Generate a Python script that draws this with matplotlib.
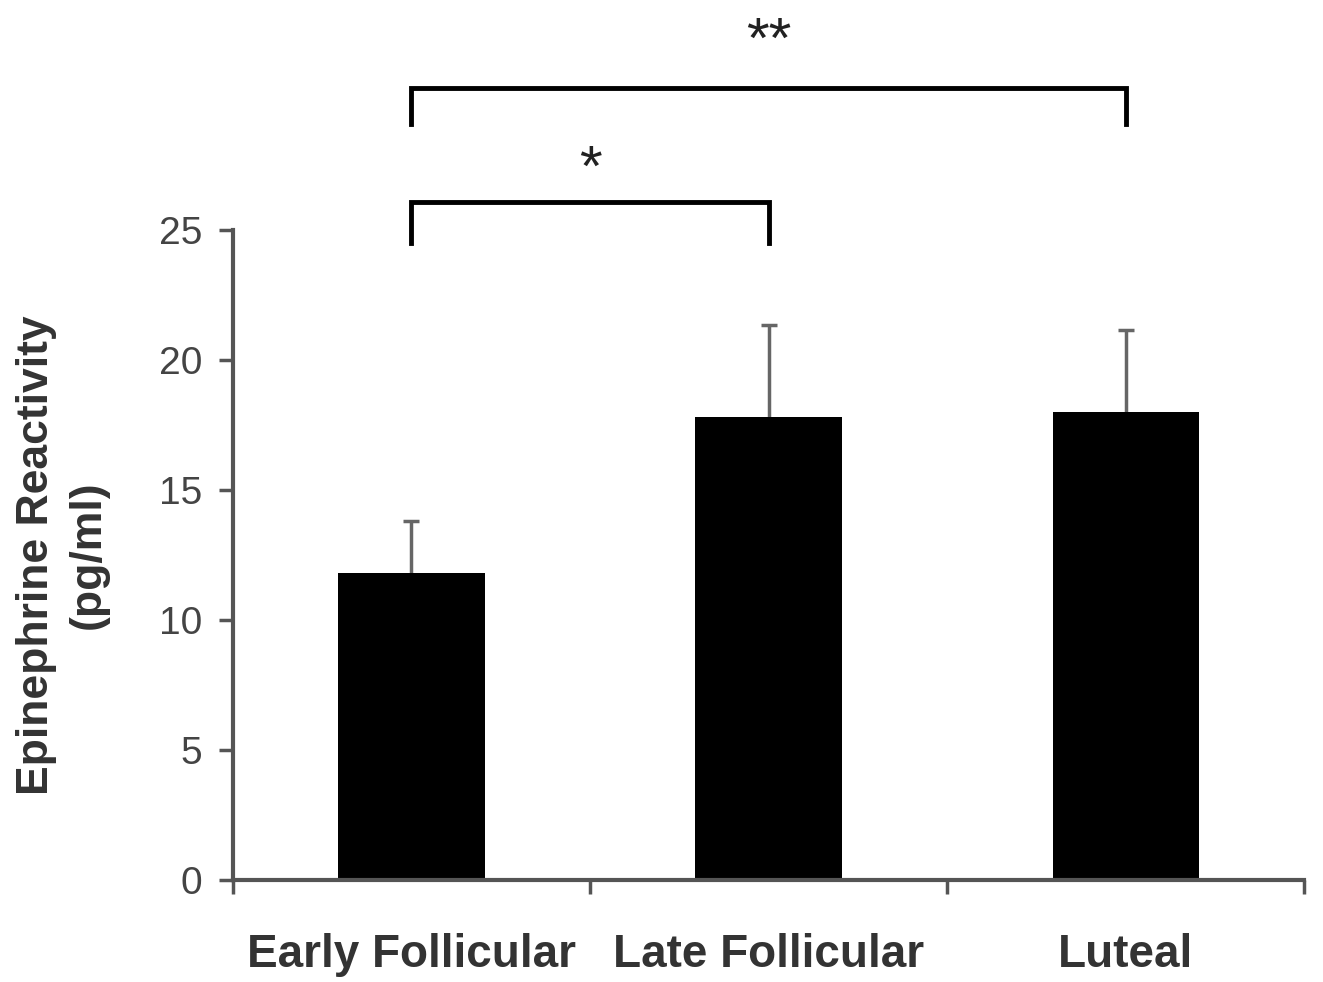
import matplotlib
matplotlib.use('Agg')
import matplotlib.pyplot as plt
import numpy as np

# data
phases = ['Early Follicular', 'Late Follicular', 'Luteal']
means = [11.8, 17.8, 18.0]
sems = [2.0, 3.55, 3.15]
sig_pairs = [(0, 1), (0, 2)]
sig_labels = ['*', '**']

plt.rcParams['font.family'] = ['Liberation Sans', 'DejaVu Sans']
axis_grey = '#555555'

fig = plt.figure(figsize=(13.23, 9.82), dpi=100)
ax = fig.add_axes([0.176, 0.104, 0.81, 0.662])

x = np.arange(len(phases))
ax.bar(x, means, width=0.41, color='black', zorder=2)
eb = ax.errorbar(x, means, yerr=[np.zeros(len(sems)), sems], fmt='none',
                 ecolor='#666666', elinewidth=2.5, capsize=6, capthick=2.5, zorder=1)
eb[1][0].set_visible(False)  # no cap at the bar top

ax.set_xlim(-0.5, len(phases) - 0.5)
ax.set_ylim(0, 25)
ax.set_yticks([0, 5, 10, 15, 20, 25])
ax.set_xticks(x)
ax.set_xticklabels(phases, fontsize=33, fontweight='bold', color='#333333')
ax.set_xticks(np.arange(-0.5, len(phases)), minor=True)
ax.tick_params(axis='x', which='major', length=0, pad=38)
ax.tick_params(axis='x', which='minor', length=10, width=2.5, color=axis_grey, direction='out')
ax.tick_params(axis='y', length=10, width=2.5, color=axis_grey, labelsize=28,
               labelcolor='#444444', pad=12)

for s in ['top', 'right']:
    ax.spines[s].set_visible(False)
for s in ['left', 'bottom']:
    ax.spines[s].set_color(axis_grey)
    ax.spines[s].set_linewidth(3)

ax.set_ylabel('Epinephrine Reactivity\n(pg/ml)', fontsize=32, fontweight='bold',
              color='#333333', labelpad=36, linespacing=1.35)

# significance brackets
bracket_tops = [26.05, 30.45]
bracket_feet = [24.5, 29.05]
star_base = [26.7, 31.6]
for (i, j), lab, top, foot, sb in zip(sig_pairs, sig_labels, bracket_tops, bracket_feet, star_base):
    ax.plot([x[i], x[i], x[j], x[j]], [foot, top, top, foot], color='black',
            linewidth=3.5, clip_on=False, solid_joinstyle='miter')
    ax.text((x[i] + x[j]) / 2, sb, lab, ha='center', va='baseline',
            fontsize=42, color='#222222')

fig.savefig('out.png', dpi=100)
